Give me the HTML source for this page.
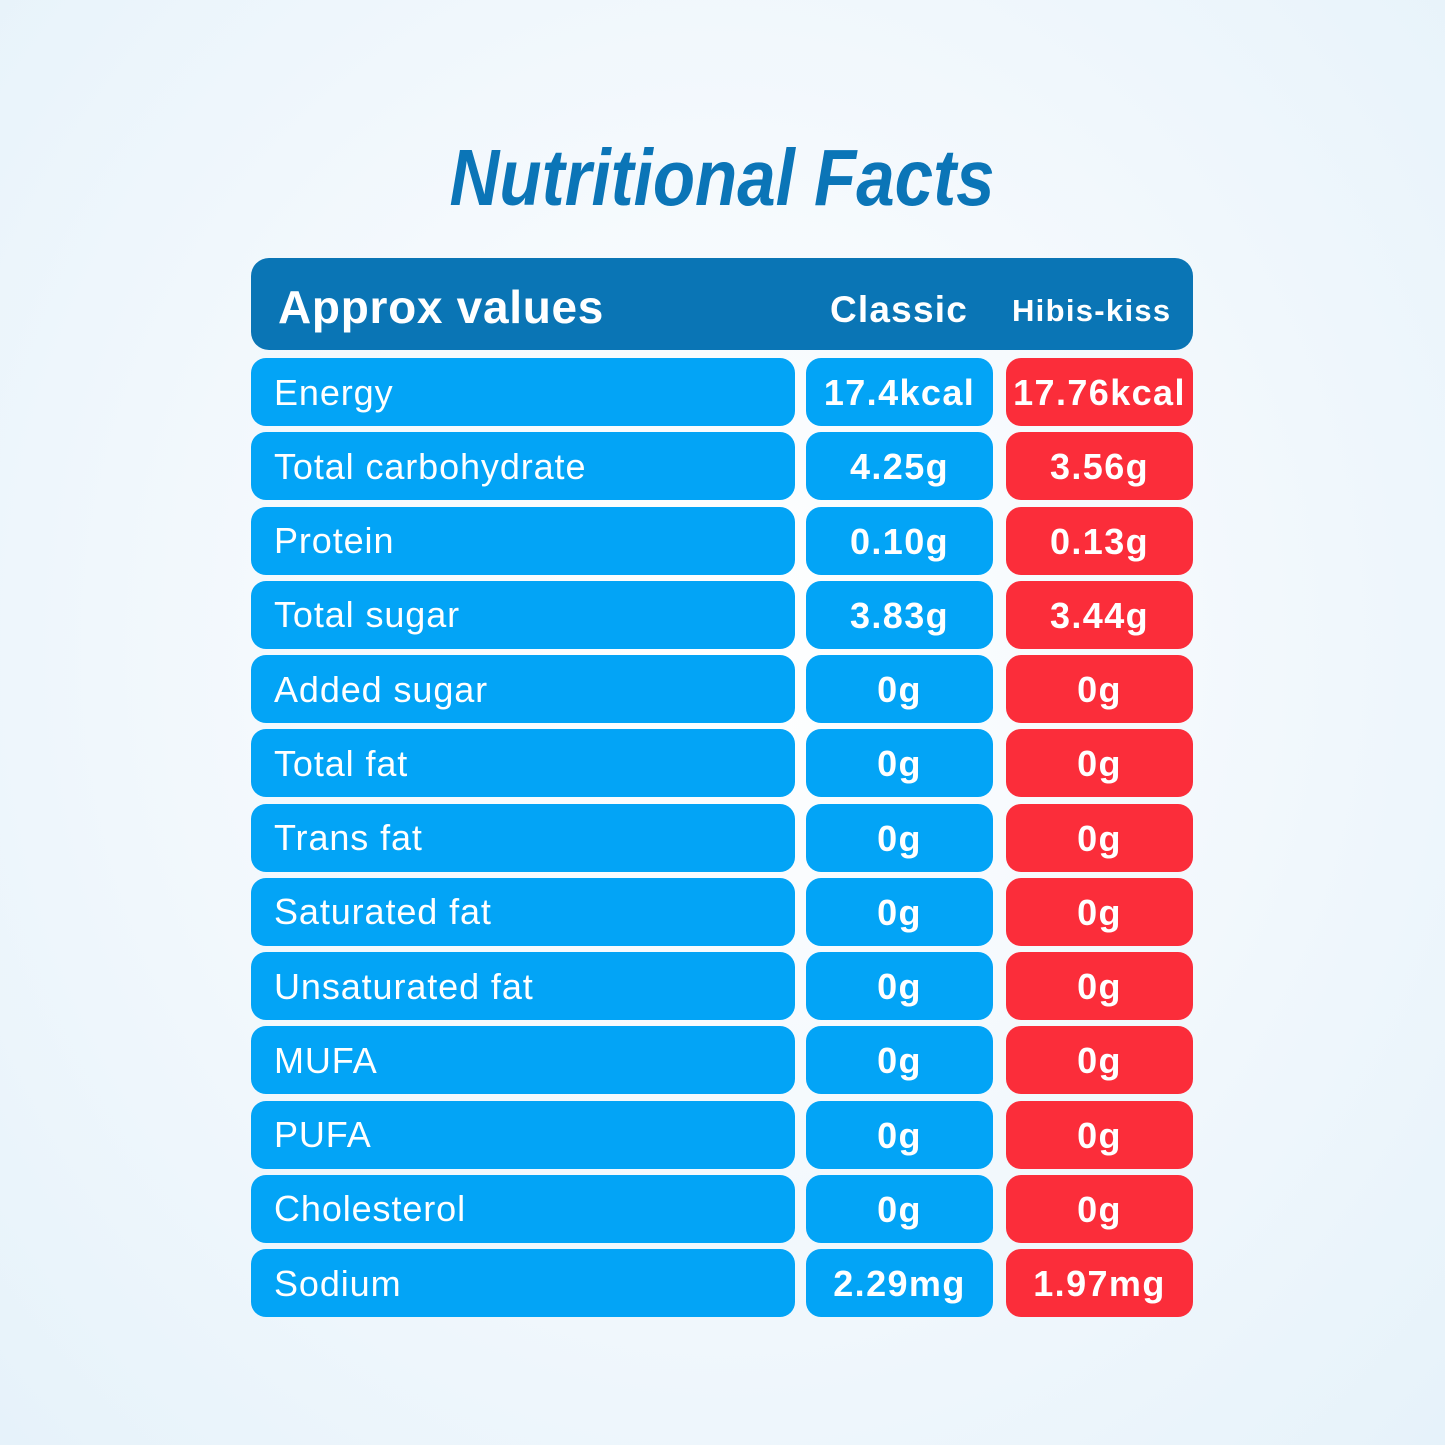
<!DOCTYPE html>
<html><head><meta charset="utf-8"><style>
html,body{margin:0;padding:0}
body{width:1445px;height:1445px;position:relative;overflow:hidden;font-family:"Liberation Sans",sans-serif;
background:radial-gradient(ellipse at 50% 45%,#ffffff 0%,#f4f9fd 45%,#e6f2fa 100%);}
.b{position:absolute;border-radius:15px;color:#fff;display:flex;align-items:center;box-sizing:border-box}
.l{left:251px;width:544px;background:#03a4f6;padding-left:23px;font-size:36px;letter-spacing:0.9px;padding-top:1px}
.c{left:806px;width:187px;background:#03a4f6;justify-content:center;font-weight:bold;font-size:36px;letter-spacing:1.4px;padding-top:2px}
.h{left:1006px;width:187px;background:#fb2d3a;justify-content:center;font-weight:bold;font-size:36px;letter-spacing:1.4px;padding-top:2px}
</style></head><body>
<svg style="position:absolute;left:0;top:0" width="1445" height="260">
<text x="722" y="205" text-anchor="middle" textLength="545" lengthAdjust="spacingAndGlyphs" font-family="Liberation Sans" font-weight="bold" font-style="italic" font-size="80" fill="#0b75b7">Nutritional Facts</text>
</svg>
<div class="b" style="left:251px;top:258px;width:942px;height:92px;background:#0a75b5;border-radius:18px">
<span style="position:absolute;left:27px;top:22px;font-size:46px;font-weight:bold;letter-spacing:0.7px">Approx values</span>
<span style="position:absolute;left:579px;top:31px;font-size:37px;font-weight:bold;letter-spacing:1.2px">Classic</span>
<span style="position:absolute;left:761px;top:35px;font-size:31px;font-weight:bold;letter-spacing:1.3px">Hibis-kiss</span>
</div>
<div id="rows"></div>
<script>
var d=[["Energy","17.4kcal","17.76kcal"],["Total carbohydrate","4.25g","3.56g"],["Protein","0.10g","0.13g"],["Total sugar","3.83g","3.44g"],["Added sugar","0g","0g"],["Total fat","0g","0g"],["Trans fat","0g","0g"],["Saturated fat","0g","0g"],["Unsaturated fat","0g","0g"],["MUFA","0g","0g"],["PUFA","0g","0g"],["Cholesterol","0g","0g"],["Sodium","2.29mg","1.97mg"]];
var h="";d.forEach(function(r,i){var t=358+i*74.25;
h+='<div class="b l" style="top:'+t+'px;height:68px">'+r[0]+'</div><div class="b c" style="top:'+t+'px;height:68px">'+r[1]+'</div><div class="b h" style="top:'+t+'px;height:68px">'+r[2]+'</div>';});
document.getElementById("rows").innerHTML=h;
</script>
</body></html>
